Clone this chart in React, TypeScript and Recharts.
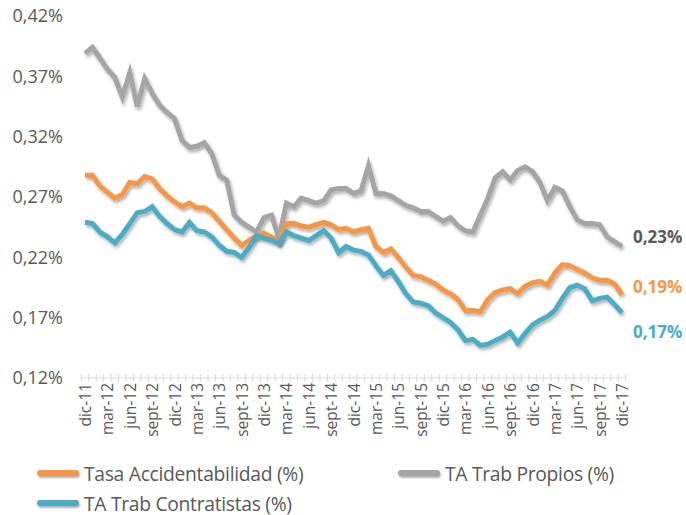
import React from 'react';
import { LineChart, Line, XAxis, YAxis } from 'recharts';

const monthNames = ['dic', 'ene', 'feb', 'mar', 'abr', 'may', 'jun', 'jul', 'ago', 'sept', 'oct', 'nov'];
const categories: string[] = Array.from({ length: 73 }, (_, i) => `${monthNames[i % 12]}-${11 + Math.ceil(i / 12)}`);

const tasaAccidentabilidad = [
  0.288, 0.288, 0.279, 0.274, 0.269, 0.272, 0.282, 0.281, 0.287, 0.285,
  0.277, 0.271, 0.266, 0.262, 0.265, 0.261, 0.261, 0.257, 0.25, 0.243,
  0.236, 0.23, 0.234, 0.238, 0.24, 0.237, 0.233, 0.248, 0.248, 0.246,
  0.245, 0.247, 0.249, 0.247, 0.243, 0.244, 0.241, 0.243, 0.244, 0.229,
  0.224, 0.227, 0.22, 0.212, 0.205, 0.204, 0.201, 0.198, 0.193, 0.19,
  0.185, 0.176, 0.176, 0.175, 0.185, 0.191, 0.193, 0.194, 0.19, 0.196,
  0.199, 0.2, 0.197, 0.207, 0.214, 0.213, 0.21, 0.207, 0.203, 0.201,
  0.201, 0.198, 0.189,
];

const trabPropios = [
  0.389, 0.394, 0.385, 0.376, 0.369, 0.353, 0.373, 0.345, 0.368, 0.356,
  0.346, 0.34, 0.335, 0.317, 0.311, 0.312, 0.315, 0.306, 0.288, 0.284,
  0.255, 0.249, 0.245, 0.241, 0.253, 0.255, 0.236, 0.265, 0.262, 0.269,
  0.267, 0.265, 0.267, 0.276, 0.277, 0.277, 0.273, 0.275, 0.296, 0.273,
  0.273, 0.271, 0.267, 0.263, 0.261, 0.258, 0.258, 0.254, 0.25, 0.253,
  0.246, 0.242, 0.241, 0.255, 0.269, 0.286, 0.291, 0.284, 0.292, 0.295,
  0.291, 0.282, 0.267, 0.278, 0.275, 0.262, 0.251, 0.248, 0.248, 0.247,
  0.237, 0.233, 0.229,
];

const trabContratistas = [
  0.249, 0.248, 0.241, 0.237, 0.232, 0.239, 0.248, 0.257, 0.258, 0.262,
  0.254, 0.248, 0.243, 0.241, 0.249, 0.242, 0.241, 0.237, 0.23, 0.225,
  0.224, 0.22, 0.228, 0.238, 0.236, 0.234, 0.232, 0.241, 0.238, 0.236,
  0.234, 0.238, 0.242, 0.236, 0.224, 0.229, 0.226, 0.225, 0.222, 0.213,
  0.205, 0.209, 0.2, 0.19, 0.183, 0.182, 0.18, 0.174, 0.17, 0.166,
  0.16, 0.151, 0.152, 0.147, 0.148, 0.151, 0.154, 0.158, 0.149, 0.157,
  0.164, 0.168, 0.171, 0.176, 0.186, 0.195, 0.197, 0.194, 0.184, 0.186,
  0.187, 0.181, 0.174,
];

const yTicks = [0.12, 0.17, 0.22, 0.27, 0.32, 0.37, 0.42];

const data = categories.map((m, i) => ({
  m,
  tasa: tasaAccidentabilidad[i],
  propios: trabPropios[i],
  contratistas: trabContratistas[i],
}));

const ORANGE = '#F79646';
const GRAY = '#A5A5A5';
const BLUE = '#4BACC6';
const TEXT = '#595959';
const FONT = '"Open Sans", sans-serif';

const fmt = (v: number) => v.toFixed(2).replace('.', ',') + '%';

const XTick = (props: any) => {
  const { x, y, payload } = props;
  const idx = payload && payload.index !== undefined ? payload.index : props.index;
  const half = 3.73;
  return (
    <g>
      <line x1={x - half} x2={x - half} y1={y - 4} y2={y + 4} stroke="#D9D9D9" strokeWidth={1} />
      {idx === categories.length - 1 && (
        <line x1={x + half} x2={x + half} y1={y - 4} y2={y + 4} stroke="#D9D9D9" strokeWidth={1} />
      )}
      {idx % 3 === 0 && (
        <text
          transform={`translate(${x + 6},${y + 5}) rotate(-90)`}
          textAnchor="end"
          fontSize={15.5}
          fontFamily={FONT}
          fill={TEXT}
        >
          {payload.value}
        </text>
      )}
    </g>
  );
};

const endLabel = (color: string, dy: number) => (props: any) => {
  const { x, y, index, value } = props;
  if (index !== categories.length - 1) return null;
  return (
    <text x={x + 11} y={y + dy} fontSize={17} fontWeight={700} fontFamily={FONT} fill={color} dominantBaseline="central">
      {fmt(value)}
    </text>
  );
};

const legendItems = [
  { label: 'Tasa Accidentabilidad (%)', color: ORANGE, left: 37, top: 463 },
  { label: 'TA Trab Propios (%)', color: GRAY, left: 398, top: 463 },
  { label: 'TA Trab Contratistas (%)', color: BLUE, left: 37, top: 493 },
];

export default function App() {
  return (
    <div style={{ position: 'absolute', left: 0, top: 0, width: 686, height: 515, background: '#fff', fontFamily: FONT }}>
      <svg width={0} height={0} style={{ position: 'absolute' }}>
        <defs>
          <filter id="shadow" x="-10%" y="-20%" width="120%" height="160%">
            <feDropShadow dx={1.5} dy={2.5} stdDeviation={1.5} floodColor="#000" floodOpacity={0.3} />
          </filter>
        </defs>
      </svg>
      <LineChart width={686} height={515} data={data} margin={{ top: 16, right: 60, bottom: 0, left: 0 }}>
        <XAxis
          dataKey="m"
          interval={0}
          height={137}
          padding={{ left: 4, right: 4 }}
          tickLine={false}
          tickSize={0}
          tickMargin={0}
          axisLine={{ stroke: '#D9D9D9' }}
          tick={<XTick />}
        />
        <YAxis
          type="number"
          domain={[0.12, 0.42]}
          ticks={yTicks}
          width={81}
          axisLine={false}
          tickLine={false}
          tickSize={0}
          tickMargin={18}
          tickFormatter={fmt}
          tick={{ fill: TEXT, fontSize: 18, fontFamily: FONT }}
        />
        <Line
          type="linear"
          dataKey="propios"
          stroke={GRAY}
          strokeWidth={5}
          dot={false}
          isAnimationActive={false}
          filter="url(#shadow)"
          label={endLabel(TEXT, -10)}
        />
        <Line
          type="linear"
          dataKey="tasa"
          stroke={ORANGE}
          strokeWidth={5}
          dot={false}
          isAnimationActive={false}
          filter="url(#shadow)"
          label={endLabel(ORANGE, -8)}
        />
        <Line
          type="linear"
          dataKey="contratistas"
          stroke={BLUE}
          strokeWidth={5}
          dot={false}
          isAnimationActive={false}
          filter="url(#shadow)"
          label={endLabel(BLUE, 19)}
        />
      </LineChart>
      {legendItems.map((it) => (
        <div
          key={it.label}
          style={{ position: 'absolute', left: it.left, top: it.top, display: 'flex', alignItems: 'center', height: 20 }}
        >
          <div
            style={{
              width: 42,
              height: 6,
              borderRadius: 3,
              background: it.color,
              boxShadow: '1px 2px 2px rgba(0,0,0,0.3)',
              marginRight: 5,
            }}
          />
          <span style={{ fontSize: 19.3, color: TEXT, whiteSpace: 'nowrap', letterSpacing: -0.3 }}>{it.label}</span>
        </div>
      ))}
    </div>
  );
}
